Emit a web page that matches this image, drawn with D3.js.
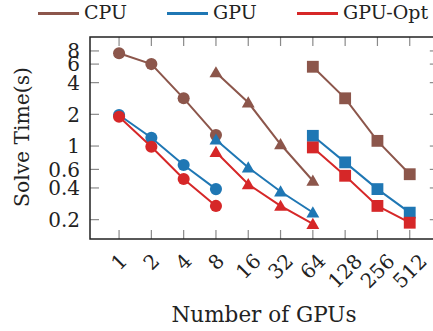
<!DOCTYPE html>
<html>
<head>
<meta charset="utf-8">
<script src="https://cdn.jsdelivr.net/npm/d3@7"></script>
<style>
  body { margin: 0; background: #fff; }
  text { font-family: "DejaVu Serif", serif; fill: #222; }
</style>
</head>
<body>
<script>
// categories (number of GPUs)
const gpus = ["1", "2", "4", "8", "16", "32", "64", "128", "256", "512"];
const yTicks = [0.2, 0.4, 0.6, 1, 2, 4, 6, 8];

// each series has three runs: circles (1..8), triangles (8..64), squares (64..512)
const cpu    = [[7.6, 6.0, 2.84, 1.27], [5.0, 2.59, 1.04, 0.468], [5.66, 2.84, 1.12, 0.54]];
const gpu    = [[1.97, 1.2, 0.66, 0.39], [1.15, 0.625, 0.37, 0.234], [1.25, 0.70, 0.39, 0.233]];
const gpuOpt = [[1.9, 0.985, 0.486, 0.27], [0.877, 0.434, 0.27, 0.182], [0.97, 0.522, 0.27, 0.187]];

const runStart = [0, 3, 6];
const runShape = [d3.symbolCircle, d3.symbolTriangle, d3.symbolSquare];

const series = [
  {name: "CPU", color: "#8c564b", vals: cpu},
  {name: "GPU", color: "#1f77b4", vals: gpu},
  {name: "GPU-Opt", color: "#d62728", vals: gpuOpt}
];

const width = 433, height = 331;
const plotLeft = 90, plotTop = 37, plotBottom = 239;

let svg = d3.select("body").append("svg")
  .attr("width", width).attr("height", height);

let x = d3.scaleLinear().domain([-0.9, 9.9]).range([plotLeft, 438.8]);
let y = d3.scaleLog().domain([0.131, 10.85]).range([plotBottom, plotTop]);
const plotRight = x(9.9);

// shrink/grow a text so that it spans a given width
function fitWidth(sel, w) {
  sel.each(function() {
    let fs = parseFloat(this.style.fontSize);
    let len = this.getComputedTextLength();
    this.style.fontSize = (fs * w / len) + "px";
  });
}

// ticks (inside, on all four sides)
let tickG = svg.append("g").attr("stroke", "#8a8a8a").attr("stroke-width", 1.2);
gpus.forEach((_, i) => {
  tickG.append("line").attr("x1", x(i)).attr("x2", x(i)).attr("y1", plotBottom).attr("y2", plotBottom - 9);
  tickG.append("line").attr("x1", x(i)).attr("x2", x(i)).attr("y1", plotTop).attr("y2", plotTop + 9);
});
yTicks.forEach(v => {
  tickG.append("line").attr("x1", plotLeft).attr("x2", plotLeft + 9).attr("y1", y(v)).attr("y2", y(v));
  tickG.append("line").attr("x1", plotRight).attr("x2", plotRight - 9).attr("y1", y(v)).attr("y2", y(v));
});

// frame
svg.append("rect")
  .attr("x", plotLeft).attr("y", plotTop)
  .attr("width", plotRight - plotLeft).attr("height", plotBottom - plotTop)
  .attr("fill", "none").attr("stroke", "#222").attr("stroke-width", 1.5);

// y tick labels
let yl = svg.append("g").selectAll("text")
  .data(yTicks).enter().append("text")
  .attr("x", plotLeft - 10).attr("y", d => y(d))
  .attr("dy", "0.36em")
  .attr("text-anchor", "end")
  .style("font-size", "20px")
  .text(d => d);

// x tick labels, rotated 45 degrees
svg.append("g").selectAll("text")
  .data(gpus).enter().append("text")
  .style("font-size", "20px")
  .attr("text-anchor", "middle")
  .attr("dominant-baseline", "central")
  .text(d => d)
  .attr("transform", function(d, i) {
    let w = this.getComputedTextLength();
    return `translate(${x(i)},${257 + 0.37 * w}) rotate(-45)`;
  });

// axis titles
let xt = svg.append("text")
  .attr("x", 264).attr("y", 322)
  .attr("text-anchor", "middle")
  .style("font-size", "24px")
  .text("Number of GPUs");
fitWidth(xt, 185);

let yt = svg.append("text")
  .attr("transform", "translate(29,137) rotate(-90)")
  .attr("text-anchor", "middle")
  .style("font-size", "24px")
  .text("Solve Time(s)");
fitWidth(yt, 140);

// lines and markers
series.forEach(s => {
  let g = svg.append("g");
  s.vals.forEach((run, r) => {
    let pts = run.map((v, k) => [x(runStart[r] + k), y(v)]);
    g.append("path")
      .attr("d", d3.line()(pts))
      .attr("fill", "none")
      .attr("stroke", s.color)
      .attr("stroke-width", 2);
    let sym = d3.symbol().type(runShape[r])
      .size(r === 0 ? 115 : r === 1 ? 72 : 140);
    g.selectAll(null).data(pts).enter().append("path")
      .attr("d", sym)
      .attr("transform", d => `translate(${d[0]},${d[1] + (r === 1 ? 1.2 : 0)})`)
      .attr("fill", s.color);
  });
});

// legend
const legX = [38, 167, 297];
const legW = [39, 40, 83];
series.forEach((s, i) => {
  svg.append("line")
    .attr("x1", legX[i]).attr("x2", legX[i] + 41)
    .attr("y1", 13.5).attr("y2", 13.5)
    .attr("stroke", s.color).attr("stroke-width", 3);
  let t = svg.append("text")
    .attr("x", legX[i] + 46).attr("y", 19)
    .style("font-size", "19px")
    .text(s.name);
});
</script>
</body>
</html>
